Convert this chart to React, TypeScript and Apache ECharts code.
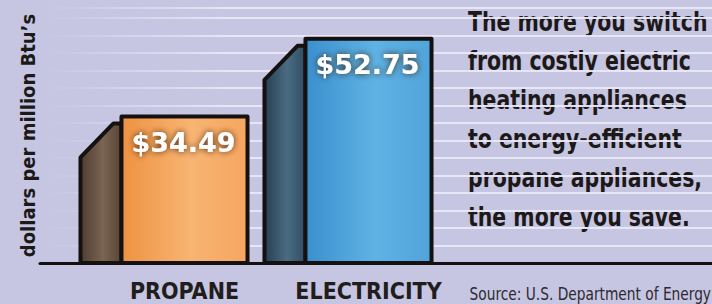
import React, { useEffect, useRef } from "react";
import * as echarts from "echarts";

const categories = ["PROPANE", "ELECTRICITY"];
const values = [34.49, 52.75];
const valueLabels = ["$34.49", "$52.75"];
const yAxisTitle = "dollars per million Btu’s";
const noteLines = [
  "The more you switch",
  "from costly electric",
  "heating appliances",
  "to energy-efficient",
  "propane appliances,",
  "the more you save.",
];
const sourceText = "Source: U.S. Department of Energy";

const frontColors = [
  ["#ee9242", "#f8b472", "#f5a660"],
  ["#3a90ce", "#5eb2e4", "#50a4da"],
];
const sideColors = [
  ["#4e3d30", "#7a6452", "#574536"],
  ["#263f52", "#4b6b82", "#2f4e64"],
];

const NARROW = '"DejaVu Sans Condensed", "DejaVu Sans", sans-serif';
const OUTLINE = "#161111";

function grad(c: string[]) {
  return new echarts.graphic.LinearGradient(0, 0, 1, 0, [
    { offset: 0, color: c[0] },
    { offset: 0.55, color: c[1] },
    { offset: 1, color: c[2] },
  ]);
}

export default function App() {
  const ref = useRef<HTMLDivElement>(null);
  useEffect(() => {
    if (!ref.current) return;
    const chart = echarts.init(ref.current, undefined, { renderer: "svg" });
    const data = values.map((v, i) => [i, v]);
    chart.setOption({
      animation: false,
      backgroundColor: "#c6c6e2",
      grid: [
        { left: 92.5, width: 368, top: 8, bottom: 41 },
        { left: 40, right: 0, top: 8, bottom: 41 },
      ],
      xAxis: [
        {
          type: "category",
          gridIndex: 0,
          data: categories,
          axisLine: { show: false },
          axisTick: { show: false },
          axisLabel: {
            interval: 0,
            margin: 16,
            fontFamily: NARROW,
            fontWeight: "bold",
            fontSize: 23,
            color: "#221d1d",
          },
        },
        {
          type: "value",
          gridIndex: 1,
          min: 0,
          max: 1,
          z: 10,
          axisLine: { show: true, lineStyle: { color: OUTLINE, width: 3 } },
          axisTick: { show: false },
          axisLabel: { show: false },
          splitLine: { show: false },
        },
      ],
      yAxis: [
        { type: "value", gridIndex: 0, min: 0, max: 60, show: false },
        {
          type: "value",
          gridIndex: 1,
          min: 0,
          max: 14.57,
          interval: 1,
          axisLine: { show: false },
          axisTick: { show: false },
          axisLabel: { show: false },
          splitLine: {
            show: true,
            lineStyle: {
              width: 2,
              color: new echarts.graphic.LinearGradient(
                45,
                0,
                230,
                0,
                [
                  { offset: 0, color: "rgba(228,228,246,0)" },
                  { offset: 1, color: "rgba(232,232,248,0.95)" },
                ],
                true
              ),
            },
          },
          name: yAxisTitle,
          nameLocation: "middle",
          nameRotate: 90,
          nameGap: 2,
          nameTextStyle: {
            fontFamily: NARROW,
            fontWeight: "bold",
            fontSize: 20,
            color: "#1e1919",
          },
        },
      ],
      series: [
        {
          type: "custom",
          xAxisIndex: 0,
          yAxisIndex: 0,
          data,
          encode: { x: 0, y: 1 },
          z: 3,
          renderItem: (params: any, api: any) => {
            const i = api.value(0);
            const v = api.value(1);
            const top = api.coord([i, v]);
            const base = api.coord([i, 0]);
            const band = api.size([1, 0])[0];
            const w = band * 0.685;
            const fl = top[0] - w / 2;
            const ty = top[1];
            const by = base[1];
            const sw = 41;
            return {
              type: "group",
              children: [
                {
                  type: "polygon",
                  shape: {
                    points: [
                      [fl, by],
                      [fl - sw, by],
                      [fl - sw, ty + 41],
                      [fl - 8, ty + 7],
                      [fl, ty + 7],
                    ],
                  },
                  style: {
                    fill: grad(sideColors[i]),
                    stroke: OUTLINE,
                    lineWidth: 4,
                    lineJoin: "round",
                  },
                },
                {
                  type: "rect",
                  shape: { x: fl, y: ty, width: w, height: by - ty },
                  style: {
                    fill: grad(frontColors[i]),
                    stroke: OUTLINE,
                    lineWidth: 4,
                    lineJoin: "round",
                  },
                },
                {
                  type: "text",
                  style: {
                    text: valueLabels[i],
                    x: top[0] - 1,
                    y: ty + 26,
                    align: "center",
                    verticalAlign: "middle",
                    fill: "#ffffff",
                    font: 'bold 27px "DejaVu Sans", sans-serif',
                    textShadowColor: "rgba(60,30,10,0.9)",
                    textShadowBlur: 6,
                  },
                },
              ],
            };
          },
        },
      ],
      graphic: [
        {
          type: "text",
          x: 468,
          y: 2,
          scaleX: 0.875,
          style: {
            text: noteLines.join("\n"),
            font: `bold 26px ${NARROW}`,
            lineHeight: 39,
            fill: "#1e1919",
          },
        },
        {
          type: "text",
          x: 711,
          y: 286,
          scaleX: 0.9,
          style: {
            text: sourceText,
            align: "right",
            font: `17px ${NARROW}`,
            fill: "#2e2a2e",
          },
        },
      ],
    });
    return () => chart.dispose();
  }, []);
  return (
    <div
      ref={ref}
      style={{ position: "fixed", left: 0, top: 0, width: 712, height: 304 }}
    />
  );
}
